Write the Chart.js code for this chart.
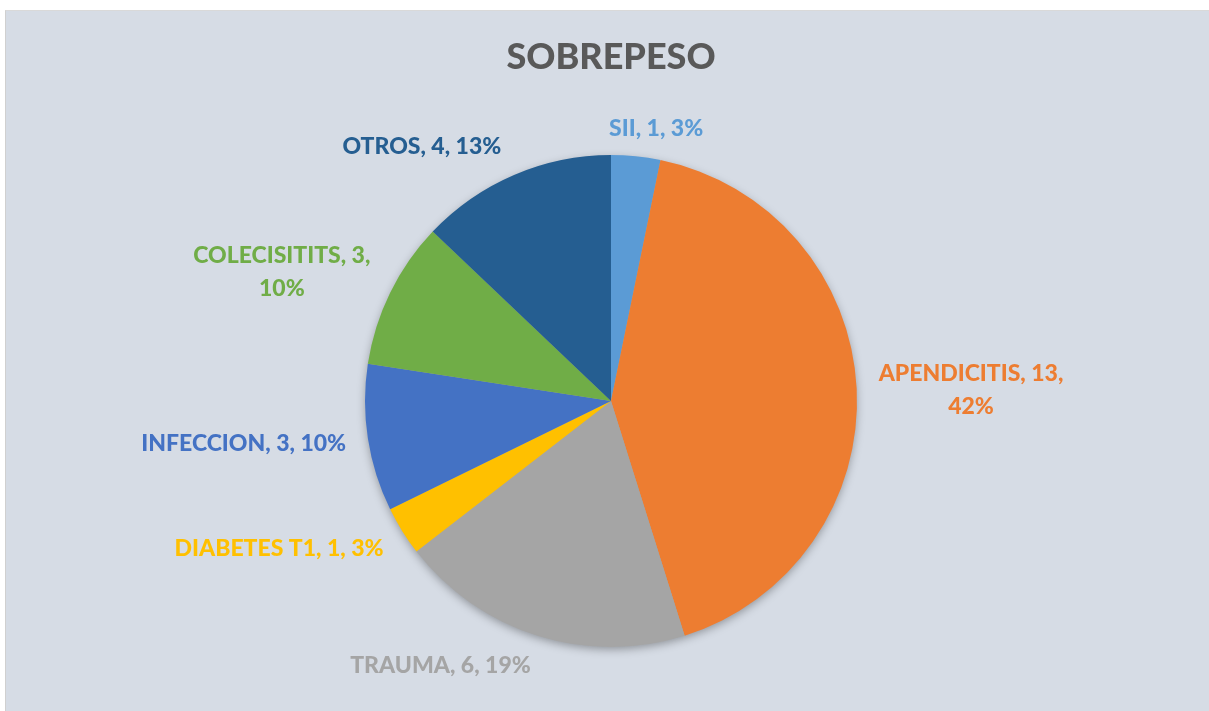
<!DOCTYPE html>
<html>
<head>
<meta charset="utf-8">
<script src="https://cdn.jsdelivr.net/npm/chart.js@4.4.1/dist/chart.umd.min.js"></script>
<style>
  html, body { margin: 0; padding: 0; background: #ffffff; }
  #frame { position: absolute; left: 5px; top: 10px; width: 1203px; height: 700px;
           background: #D6DCE5; border-left: 1px solid #D0D0D0; border-top: 1px solid #D9D9D9; }
  #wrap { position: absolute; left: 0; top: 0; width: 1209px; height: 711px; }
</style>
</head>
<body>
<div id="frame"></div>
<div id="wrap"><canvas id="c" width="1209" height="711"></canvas></div>
<script>
const categories = ["SII", "APENDICITIS", "TRAUMA", "DIABETES T1", "INFECCION", "COLECISITITS", "OTROS"];
const values = [1, 13, 6, 1, 3, 3, 4];
const colors = ["#5B9BD5", "#ED7D31", "#A5A5A5", "#FFC000", "#4472C4", "#70AD47", "#255E91"];
const chartTitle = "SOBREPESO";

const FONT = "Lato, 'Open Sans', sans-serif";
const WEIGHT = 900;
const LABEL_SIZE = 23;
const LABEL_LH = 33;
const WRAP_MAX = 218;
const GAP = 22;
// small label nudges (x, y) in px, per slice
const labelNudge = [[18, 5], [0, 4], [0, -2], [0, 0], [0, 0], [0, 4], [-4, 2]];

const shadowPlugin = {
  id: 'pieShadow',
  beforeDatasetsDraw(chart) {
    const arc = chart.getDatasetMeta(0).data[0];
    if (!arc) return;
    const ctx = chart.ctx;
    ctx.save();
    ctx.shadowColor = 'rgba(0,0,0,0.35)';
    ctx.shadowBlur = 10;
    ctx.shadowOffsetY = 3;
    ctx.fillStyle = '#A5A5A5';
    ctx.beginPath();
    ctx.arc(arc.x, arc.y, arc.outerRadius - 1, 0, Math.PI * 2);
    ctx.fill();
    ctx.restore();
  }
};

const labelPlugin = {
  id: 'outsideLabels',
  afterDatasetsDraw(chart) {
    const ctx = chart.ctx;
    const meta = chart.getDatasetMeta(0);
    const data = chart.data.datasets[0].data;
    const total = data.reduce((a, b) => a + b, 0);
    ctx.save();
    ctx.font = `${WEIGHT} ${LABEL_SIZE}px ${FONT}`;
    ctx.textBaseline = 'middle';
    meta.data.forEach((arc, i) => {
      const a = (arc.startAngle + arc.endAngle) / 2;
      const r = arc.outerRadius + GAP;
      const ax = arc.x + Math.cos(a) * r;
      const ay = arc.y + Math.sin(a) * r;
      const pct = Math.round(data[i] / total * 100);
      const full = `${chart.data.labels[i]}, ${data[i]}, ${pct}%`;
      let lines = [full];
      if (ctx.measureText(full).width > WRAP_MAX) {
        lines = [`${chart.data.labels[i]}, ${data[i]},`, `${pct}%`];
      }
      const w = Math.max(...lines.map(l => ctx.measureText(l).width));
      const h = lines.length * LABEL_LH;
      const c = Math.cos(a);
      let cx;
      if (c < -0.2) cx = ax - w / 2;
      else if (c > 0.2) cx = ax + w / 2;
      else cx = ax;
      const halfH = lines.length > 1 ? h / 2 : 11;
      let cy = ay + Math.sin(a) * halfH;
      cx += labelNudge[i][0];
      cy += labelNudge[i][1];
      ctx.fillStyle = colors[i];
      ctx.textAlign = 'center';
      lines.forEach((l, k) => {
        ctx.fillText(l, cx, cy - h / 2 + LABEL_LH * (k + 0.5));
      });
    });
    ctx.restore();
  }
};

new Chart(document.getElementById('c'), {
  type: 'pie',
  data: {
    labels: categories,
    datasets: [{
      data: values,
      backgroundColor: colors,
      borderWidth: 0,
      hoverOffset: 0
    }]
  },
  options: {
    responsive: false,
    animation: false,
    events: [],
    layout: { padding: { left: 365, right: 352, top: 0, bottom: 64 } },
    plugins: {
      legend: { display: false },
      tooltip: { enabled: false },
      title: {
        display: true,
        text: chartTitle,
        color: '#595959',
        font: { family: FONT, size: 36, weight: WEIGHT, lineHeight: 1.2 },
        padding: { top: 35.4, bottom: 76.4 }
      }
    }
  },
  plugins: [shadowPlugin, labelPlugin]
});
</script>
</body>
</html>
